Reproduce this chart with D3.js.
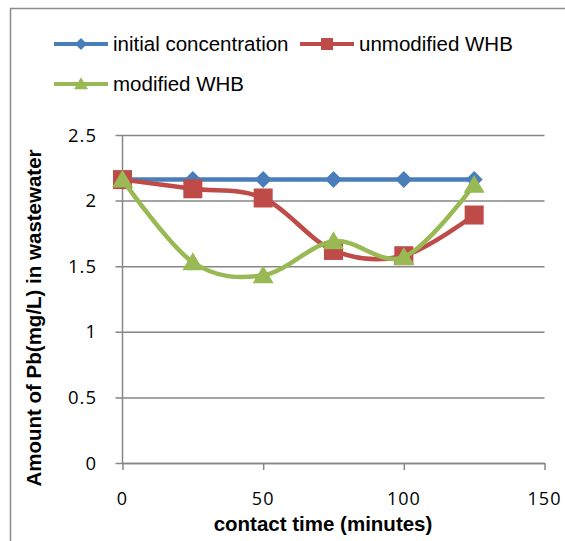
<!DOCTYPE html>
<html>
<head>
<meta charset="utf-8">
<script src="https://cdn.jsdelivr.net/npm/d3@7"></script>
<style>
  body { margin: 0; background: #fff; }
</style>
</head>
<body>
<div class="chart-container"></div>
<script>
// contact time (minutes)
const times = [0, 25, 50, 75, 100, 125];
const initialConc = [2.16, 2.16, 2.16, 2.16, 2.16, 2.16];
const unmodifiedWHB = [2.16, 2.09, 2.02, 1.62, 1.58, 1.89];
const modifiedWHB = [2.16, 1.53, 1.43, 1.69, 1.57, 2.12];
const xTicks = [0, 50, 100, 150];
const yTicks = [0, 0.5, 1, 1.5, 2, 2.5];

const series = [
    { name: "initial concentration", values: initialConc, color: "#4a7ebb", marker: "diamond", smooth: false },
    { name: "unmodified WHB", values: unmodifiedWHB, color: "#be4b48", marker: "square", smooth: true },
    { name: "modified WHB", values: modifiedWHB, color: "#98b954", marker: "triangle", smooth: true }
];

const width = 565, height = 541;
const plot = { left: 122.5, right: 544.5, top: 135, bottom: 463 };

const svg = d3.select('.chart-container').append("svg")
    .attr("width", width)
    .attr("height", height)
    .attr("style", "font-family: 'Liberation Sans', Arial, sans-serif;");

// outer chart frame (only left and top edges are inside the picture)
svg.append("rect")
    .attr("x", 10.5).attr("y", 8.5)
    .attr("width", width).attr("height", height)
    .attr("fill", "none").attr("stroke", "#8c8c8c").attr("stroke-width", 1.5);

const x = d3.scaleLinear().domain([0, 150]).range([plot.left, plot.right]);
const y = d3.scaleLinear().domain([0, 2.5]).range([plot.bottom, plot.top]);

// gridlines + y ticks
svg.append("g")
    .attr("transform", `translate(${plot.left},0)`)
    .call(d3.axisLeft(y).tickValues(yTicks).tickSizeOuter(0).tickFormat(""))
    .call(g => g.select(".domain").remove())
    .call(g => g.selectAll(".tick line")
        .attr("x1", -7)
        .attr("x2", plot.right - plot.left)
        .attr("stroke", "#868686").attr("stroke-width", 1.5));

// y tick labels
svg.append("g").selectAll("text")
    .data(yTicks)
    .join("text")
    .attr("x", 97)
    .attr("y", d => y(d))
    .attr("dy", "0.36em")
    .attr("text-anchor", "end")
    .attr("font-family", "'Open Sans', sans-serif")
    .attr("font-size", 18.5)
    .attr("letter-spacing", 1)
    .attr("fill", "#000")
    .text(d => d);

// y axis line
svg.append("line")
    .attr("x1", plot.left).attr("x2", plot.left)
    .attr("y1", plot.top).attr("y2", plot.bottom)
    .attr("stroke", "#868686").attr("stroke-width", 1.5);

// x axis
svg.append("g")
    .attr("transform", `translate(0,${plot.bottom})`)
    .call(d3.axisBottom(x).tickValues(xTicks).tickSize(7).tickSizeOuter(0).tickFormat(""))
    .call(g => g.select(".domain").attr("stroke", "#868686").attr("stroke-width", 1.5))
    .call(g => g.selectAll(".tick line").attr("stroke", "#868686").attr("stroke-width", 1.5));

svg.append("g").selectAll("text")
    .data(xTicks)
    .join("text")
    .attr("x", d => x(d))
    .attr("y", 499)
    .attr("dy", "0.36em")
    .attr("text-anchor", "middle")
    .attr("font-family", "'Open Sans', sans-serif")
    .attr("font-size", 18)
    .attr("letter-spacing", 1)
    .attr("fill", "#000")
    .text(d => d);

// axis titles
svg.append("text")
    .attr("x", 323).attr("y", 531)
    .attr("text-anchor", "middle")
    .attr("font-weight", "bold")
    .attr("font-size", 20.5)
    .text("contact time (minutes)");

svg.append("text")
    .attr("transform", "translate(41,318) rotate(-90)")
    .attr("text-anchor", "middle")
    .attr("font-weight", "bold")
    .attr("font-size", 20.5)
    .text("Amount of Pb(mg/L) in wastewater");

function markerPath(type, size) {
    const s = size / 2;
    if (type === "diamond") return `M0,${-s}L${s},0L0,${s}L${-s},0Z`;
    if (type === "square") return `M${-s},${-s}H${s}V${s}H${-s}Z`;
    return `M0,${-s * 0.95}L${s},${s * 0.75}L${-s},${s * 0.75}Z`;
}

// series lines and markers
series.forEach(s => {
    const pts = times.map((t, i) => [t, s.values[i]]);
    const line = d3.line()
        .x(d => x(d[0])).y(d => y(d[1]))
        .curve(s.smooth ? d3.curveCatmullRom.alpha(0) : d3.curveLinear);
    const g = svg.append("g");
    g.append("path")
        .attr("d", line(pts))
        .attr("fill", "none")
        .attr("stroke", s.color)
        .attr("stroke-width", 4.5)
        .attr("stroke-linejoin", "round");
    g.selectAll("path.m")
        .data(pts)
        .join("path")
        .attr("class", "m")
        .attr("transform", d => `translate(${x(d[0])},${y(d[1])})`)
        .attr("d", markerPath(s.marker, s.marker === "diamond" ? 17 : s.marker === "square" ? 19 : 21))
        .attr("fill", s.color);
});

// legend
const legendPos = [[54, 44], [300, 44], [54, 84]];
const legend = svg.append("g");
const item = legend.selectAll("g")
    .data(series)
    .join("g")
    .attr("transform", (d, i) => `translate(${legendPos[i][0]},${legendPos[i][1]})`);
item.append("line")
    .attr("x1", 0).attr("x2", 54)
    .attr("stroke", d => d.color).attr("stroke-width", 4);
item.append("path")
    .attr("transform", "translate(27,0)")
    .attr("d", d => markerPath(d.marker, d.marker === "triangle" ? 14 : 12))
    .attr("fill", d => d.color);
item.append("text")
    .attr("x", 59)
    .attr("dy", "0.35em")
    .attr("font-size", 20.5)
    .attr("fill", "#000")
    .text(d => d.name);
</script>
</body>
</html>
